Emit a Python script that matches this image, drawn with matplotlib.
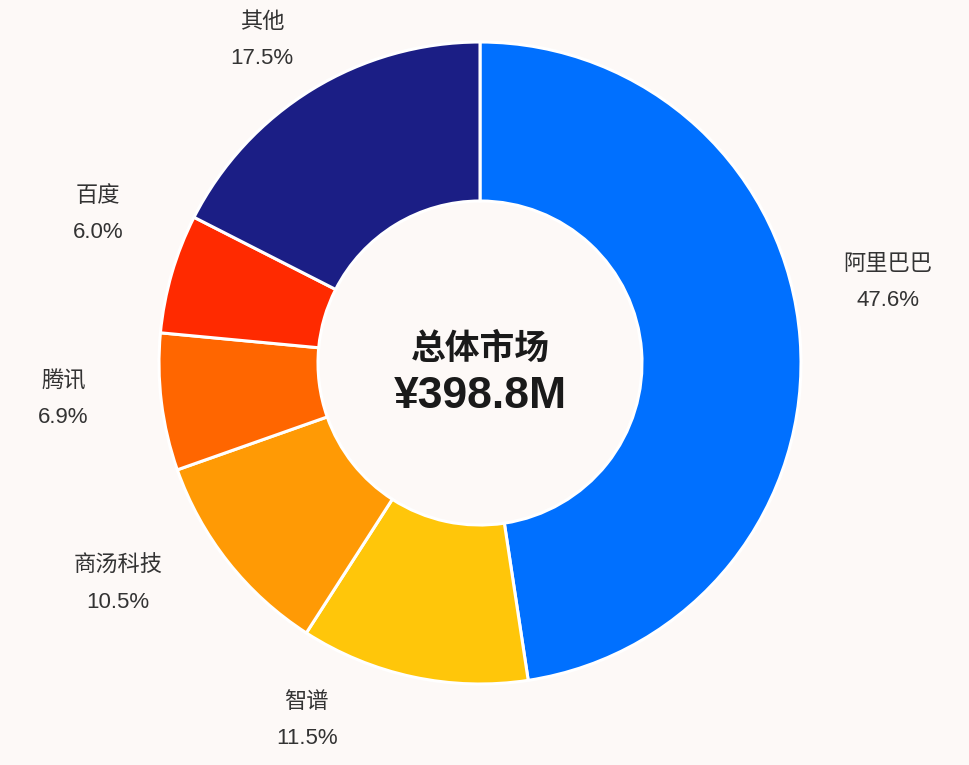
import numpy as np
import matplotlib
matplotlib.use("Agg")
import matplotlib.pyplot as plt

# Latin glyphs from Liberation Sans, CJK falls back to Noto
plt.rcParams['font.family'] = ['Liberation Sans', 'Noto Sans CJK SC', 'DejaVu Sans']

companies = ['阿里巴巴', '智谱', '商汤科技', '腾讯', '百度', '其他']
shares = [47.6, 11.5, 10.5, 6.9, 6.0, 17.5]
colors = ['#0070FF', '#FFC60A', '#FF9A05', '#FF6600', '#FF2A00', '#1B1E85']
total_label = '总体市场'
total_value = '¥398.8M'

# label layout: nudge from wedge mid-angle (deg) and distance from centre (px)
label_nudge = [6.9, -13.8, -6.9, -2.0, -5.0, 2.6]
label_dist = [416, 397, 424, 418, 410, 389]

bg = '#FDF9F7'
W, H = 970, 765
cx, cy = 480, H - 363
r_out, r_in = 321, 162

fig = plt.figure(figsize=(W / 100, H / 100), dpi=100, facecolor=bg)
ax = fig.add_axes([0, 0, 1, 1])
ax.set_facecolor(bg)

wedges, _ = ax.pie(shares, colors=colors, startangle=90, counterclock=False,
                   radius=r_out, center=(cx, cy),
                   wedgeprops=dict(width=r_out - r_in, edgecolor='white', linewidth=2.2))

ax.set_xlim(0, W)
ax.set_ylim(0, H)
ax.set_aspect('equal')
ax.axis('off')

for w, name, val, nudge, dist in zip(wedges, companies, shares, label_nudge, label_dist):
    mid = np.deg2rad((w.theta1 + w.theta2) / 2 + nudge)
    x = cx + dist * np.cos(mid)
    y = cy + dist * np.sin(mid)
    ax.text(x, y + 18, name, ha='center', va='center', fontsize=16, color='#333333')
    ax.text(x, y - 18, f'{val:.1f}%', ha='center', va='center', fontsize=16, color='#333333')

ax.text(cx, cy + 14, total_label, ha='center', va='center', fontsize=25,
        fontweight='bold', color='#1a1a1a')
ax.text(cx, cy - 33, total_value, ha='center', va='center', fontsize=32,
        fontweight='bold', color='#1a1a1a')

plt.savefig('out.png', dpi=100, facecolor=bg)
